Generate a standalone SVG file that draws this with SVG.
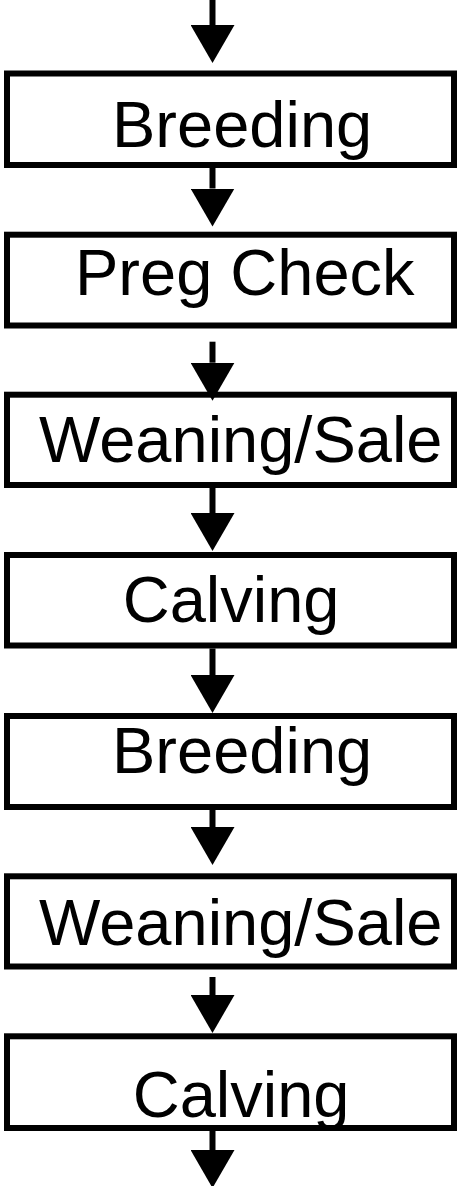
<svg xmlns="http://www.w3.org/2000/svg" width="462" height="1186" viewBox="0 0 462 1186">
  <defs>
    <style>
      .box { fill: #ffffff; stroke: #000000; stroke-width: 6; }
      .lbl { font-family: "Liberation Sans", Arial, sans-serif; font-size: 65px; fill: #000000; }
      .shaft { stroke: #000000; stroke-width: 6; fill: none; marker-end: url(#head); }
    </style>
    <!-- solid triangular arrowhead; its base sits on the end of the shaft -->
    <marker id="head" markerUnits="userSpaceOnUse" viewBox="0 -22 38 44" markerWidth="38" markerHeight="44" refX="0" refY="0" orient="auto">
      <path d="M0,-22 L38,0 L0,22 Z" fill="#000000"/>
    </marker>
  </defs>
  <rect width="462" height="1186" fill="#ffffff"/>

  <g id="nodes">
    <g id="breeding-1">
      <rect class="box" x="7" y="73.5" width="447" height="91.5"/>
      <text class="lbl" x="112" y="147">Breeding</text>
    </g>
    <g id="preg-check">
      <rect class="box" x="7" y="234.7" width="447" height="90.8"/>
      <text class="lbl" x="75" y="295">Preg Check</text>
    </g>
    <g id="weaning-sale-1">
      <rect class="box" x="7" y="394.7" width="447" height="90.3"/>
      <text class="lbl" x="39" y="461.7">Weaning/Sale</text>
    </g>
    <g id="calving-1">
      <rect class="box" x="7" y="555" width="447" height="90.5"/>
      <text class="lbl" x="122.7" y="621.7">Calving</text>
    </g>
    <g id="breeding-2">
      <rect class="box" x="7" y="716" width="447" height="91"/>
      <text class="lbl" x="112" y="773.3">Breeding</text>
    </g>
    <g id="weaning-sale-2">
      <rect class="box" x="7" y="876.3" width="447" height="90.2"/>
      <text class="lbl" x="39" y="945">Weaning/Sale</text>
    </g>
    <g id="calving-2">
      <rect class="box" x="7" y="1036.3" width="447" height="91.7"/>
      <text class="lbl" x="132.7" y="1116.7">Calving</text>
    </g>
  </g>

  <g id="connectors">
    <line class="shaft" x1="212.5" y1="0" x2="212.5" y2="25"/>
    <line class="shaft" x1="212.5" y1="168" x2="212.5" y2="188.5"/>
    <line class="shaft" x1="212.5" y1="341.7" x2="212.5" y2="362.7"/>
    <line class="shaft" x1="212.5" y1="488" x2="212.5" y2="513"/>
    <line class="shaft" x1="212.5" y1="648.5" x2="212.5" y2="675"/>
    <line class="shaft" x1="212.5" y1="810" x2="212.5" y2="827"/>
    <line class="shaft" x1="212.5" y1="977" x2="212.5" y2="995"/>
    <line class="shaft" x1="212.5" y1="1131" x2="212.5" y2="1150"/>
  </g>
</svg>
